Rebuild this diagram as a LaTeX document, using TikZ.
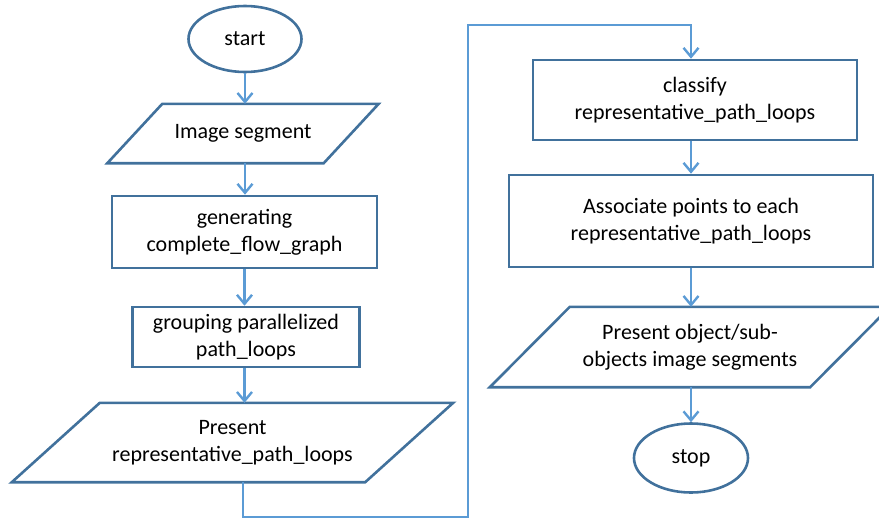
\documentclass[tikz,border=0pt]{standalone}
\usepackage{fontspec}
\setmainfont{Carlito}
\usetikzlibrary{shapes.geometric,arrows.meta,calc}
\definecolor{edgeblue}{HTML}{41719C}
\definecolor{flowblue}{HTML}{5B9BD5}

\begin{document}
\begin{tikzpicture}[x=1pt,y=-1pt,
	box/.style={draw=edgeblue,line width=2.6pt,align=center,inner sep=0pt,font=\fontsize{22}{27}\selectfont},
	io/.style={align=center,inner sep=0pt,font=\fontsize{22}{27}\selectfont},
	term/.style={box,ellipse},
	para/.style={draw=edgeblue,line width=2.6pt,line join=miter},
	flow/.style={draw=flowblue,line width=2.4pt,-{Straight Barb[length=9pt,width=15pt]}}]
	\useasboundingbox (0,0) rectangle (879,520);
	% left column
	\node[term,minimum width=113pt,minimum height=66pt] (start) at (245,39) {start};
	\node[io,minimum width=216pt,minimum height=59pt] (img) at (243,133.5) {Image segment};
	\draw[para] ([xshift=27.5pt]img.north west) -- ([xshift=27.5pt]img.north east) -- ([xshift=-27.5pt]img.south east) -- ([xshift=-27.5pt]img.south west) -- cycle;
	\node[box,minimum width=265pt,minimum height=72pt] (gen) at (244.5,232) {generating\\complete\_flow\_graph};
	\node[box,minimum width=227pt,minimum height=60pt] (grp) at (246,337) {grouping parallelized\\path\_loops};
	\node[io,minimum width=353pt,minimum height=79pt] (pres) at (232.5,442.5) {Present\\representative\_path\_loops};
	\draw[para] ([xshift=44pt]pres.north west) -- ([xshift=44pt]pres.north east) -- ([xshift=-44pt]pres.south east) -- ([xshift=-44pt]pres.south west) -- cycle;
	% right column
	\node[box,minimum width=324pt,minimum height=80pt] (cls) at (695,100) {classify\\representative\_path\_loops};
	\node[box,minimum width=364pt,minimum height=92pt] (assoc) at (691,221) {Associate points to each\\representative\_path\_loops};
	\node[io,minimum width=320pt,minimum height=80pt] (obj) at (690,347) {Present object/sub-\\objects image segments};
	\draw[para] ([xshift=40pt]obj.north west) -- ([xshift=40pt]obj.north east) -- ([xshift=-40pt]obj.south east) -- ([xshift=-40pt]obj.south west) -- cycle;
	\node[term,minimum width=114pt,minimum height=69pt] (stop) at (691,458) {stop};
	% connectors
	\draw[flow] (start.south) -- (start.south |- img.north);
	\draw[flow] (img.south -| start.south) -- (start.south |- gen.north);
	\draw[flow] (gen.south) -- (gen.south |- grp.north);
	\draw[flow] (grp.south -| gen.south) -- (gen.south |- pres.north);
	\coordinate (down) at (468,517);
	\coordinate (up) at (468,25);
	\draw[flow] (pres.south -| 243,0) |- (down) -- (up) -| (cls.north -| 691,0);
	\draw[flow] (cls.south -| 691,0) -- (assoc.north -| 691,0);
	\draw[flow] (assoc.south) -- (assoc.south |- obj.north);
	\draw[flow] (obj.south -| stop.north) -- (stop.north);
\end{tikzpicture}
\end{document}
